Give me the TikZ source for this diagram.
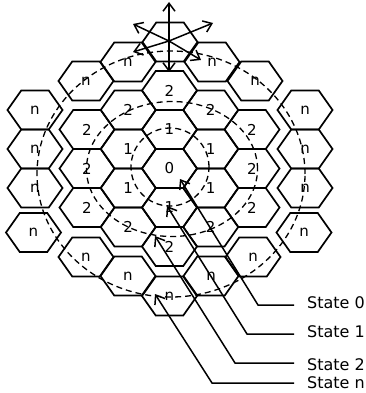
\documentclass[tikz,border=0pt]{standalone}
\usepackage{fontspec}
\setmainfont{DejaVu Sans}
\usetikzlibrary{arrows.meta}
\newcommand\hexcell[4]{%
  \draw[hexline] (#1,#2) ++(-27.5,0) -- ++(13.75,-19.5) -- ++(27.5,0) -- ++(13.75,19.5) -- ++(-13.75,19.5) -- ++(-27.5,0) -- cycle;
  \node[hexlabel] (#4) at (#1,#2) {#3};}
\begin{document}
\begin{tikzpicture}[x=1pt,y=-1pt,
  hexline/.style={line width=1.7pt, line join=miter},
  hexlabel/.style={font=\fontsize{15}{15}\selectfont, inner sep=0pt},
  ring/.style={dash pattern=on 6pt off 4pt, line width=1.3pt},
  ptr/.style={line width=1.5pt, -{Straight Barb[length=8pt,width=12pt,line width=1.5pt]}},
  statelabel/.style={font=\fontsize{16}{16}\selectfont, inner sep=0pt, anchor=base west}]
\useasboundingbox (0,0) rectangle (366,393);
% centre and ring 1
\hexcell{169.5}{168.5}{0}{h0}
\hexcell{169.5}{129.5}{1}{h1a}
\hexcell{169.5}{207.5}{1}{h1b}
\hexcell{128.25}{149}{1}{h1c}
\hexcell{128.25}{188}{1}{h1d}
\hexcell{210.75}{149}{1}{h1e}
\hexcell{210.75}{188}{1}{h1f}
% ring 2
\hexcell{169.5}{90.5}{2}{h2a}
\hexcell{169.5}{246.5}{2}{h2b}
\hexcell{128.25}{110}{2}{h2c}
\hexcell{128.25}{227}{2}{h2d}
\hexcell{210.75}{110}{2}{h2e}
\hexcell{210.75}{227}{2}{h2f}
\hexcell{87}{129.5}{2}{h2g}
\hexcell{87}{168.5}{2}{h2h}
\hexcell{87}{207.5}{2}{h2i}
\hexcell{252}{129.5}{2}{h2j}
\hexcell{252}{168.5}{2}{h2k}
\hexcell{252}{207.5}{2}{h2l}
% outer ring n
\hexcell{86}{81}{n}{hna}
\hexcell{128}{62}{n}{hnb}
\hexcell{170}{42}{}{hnc}
\hexcell{212}{62}{n}{hnd}
\hexcell{255}{81}{n}{hne}
\hexcell{35}{110}{n}{hnf}
\hexcell{35}{149}{n}{hng}
\hexcell{35}{188}{n}{hnh}
\hexcell{33.5}{232.5}{n}{hni}
\hexcell{305}{110}{n}{hnj}
\hexcell{305}{149}{n}{hnk}
\hexcell{305}{188}{n}{hnl}
\hexcell{304}{232.5}{n}{hnm}
\hexcell{86}{257}{n}{hnn}
\hexcell{128}{276}{n}{hno}
\hexcell{169.5}{296}{n}{hnp}
\hexcell{211}{276}{n}{hnq}
\hexcell{253}{257}{n}{hnr}
% dashed state boundaries
\draw[ring] (170,167) circle[x radius=39pt, y radius=39pt];
\draw[ring] (172,169) ellipse[x radius=85.5pt, y radius=67.5pt];
\draw[ring] (171,174) ellipse[x radius=134pt, y radius=123pt];
% star of movement directions
\coordinate (sc) at (169,41);
\coordinate (su) at (169,2);
\coordinate (sd) at (169,72);
\coordinate (sul) at (133,24);
\coordinate (sur) at (213,23);
\coordinate (sll) at (133,52);
\coordinate (slr) at (201,60);
\foreach \t in {su,sd,sul,sur,sll,slr} \draw[ptr] (sc) -- (\t);
% state labels and pointers
\node[statelabel] (s0) at (307,308) {State 0};
\node[statelabel] (s1) at (307,337) {State 1};
\node[statelabel] (s2) at (307,370) {State 2};
\node[statelabel] (sn) at (307,388) {State n};
\coordinate (e0) at (294,305); \coordinate (k0) at (258,305); \coordinate (t0) at (180,179);
\coordinate (e1) at (294,334); \coordinate (k1) at (247,334); \coordinate (t1) at (167,206);
\coordinate (e2) at (294,363); \coordinate (k2) at (235,363); \coordinate (t2) at (155,236);
\coordinate (en) at (294,383); \coordinate (kn) at (212,383); \coordinate (tn) at (155,294);
\draw[ptr] (e0) -- (k0) -- (t0);
\draw[ptr] (e1) -- (k1) -- (t1);
\draw[ptr] (e2) -- (k2) -- (t2);
\draw[ptr] (en) -- (kn) -- (tn);
\end{tikzpicture}
\end{document}
